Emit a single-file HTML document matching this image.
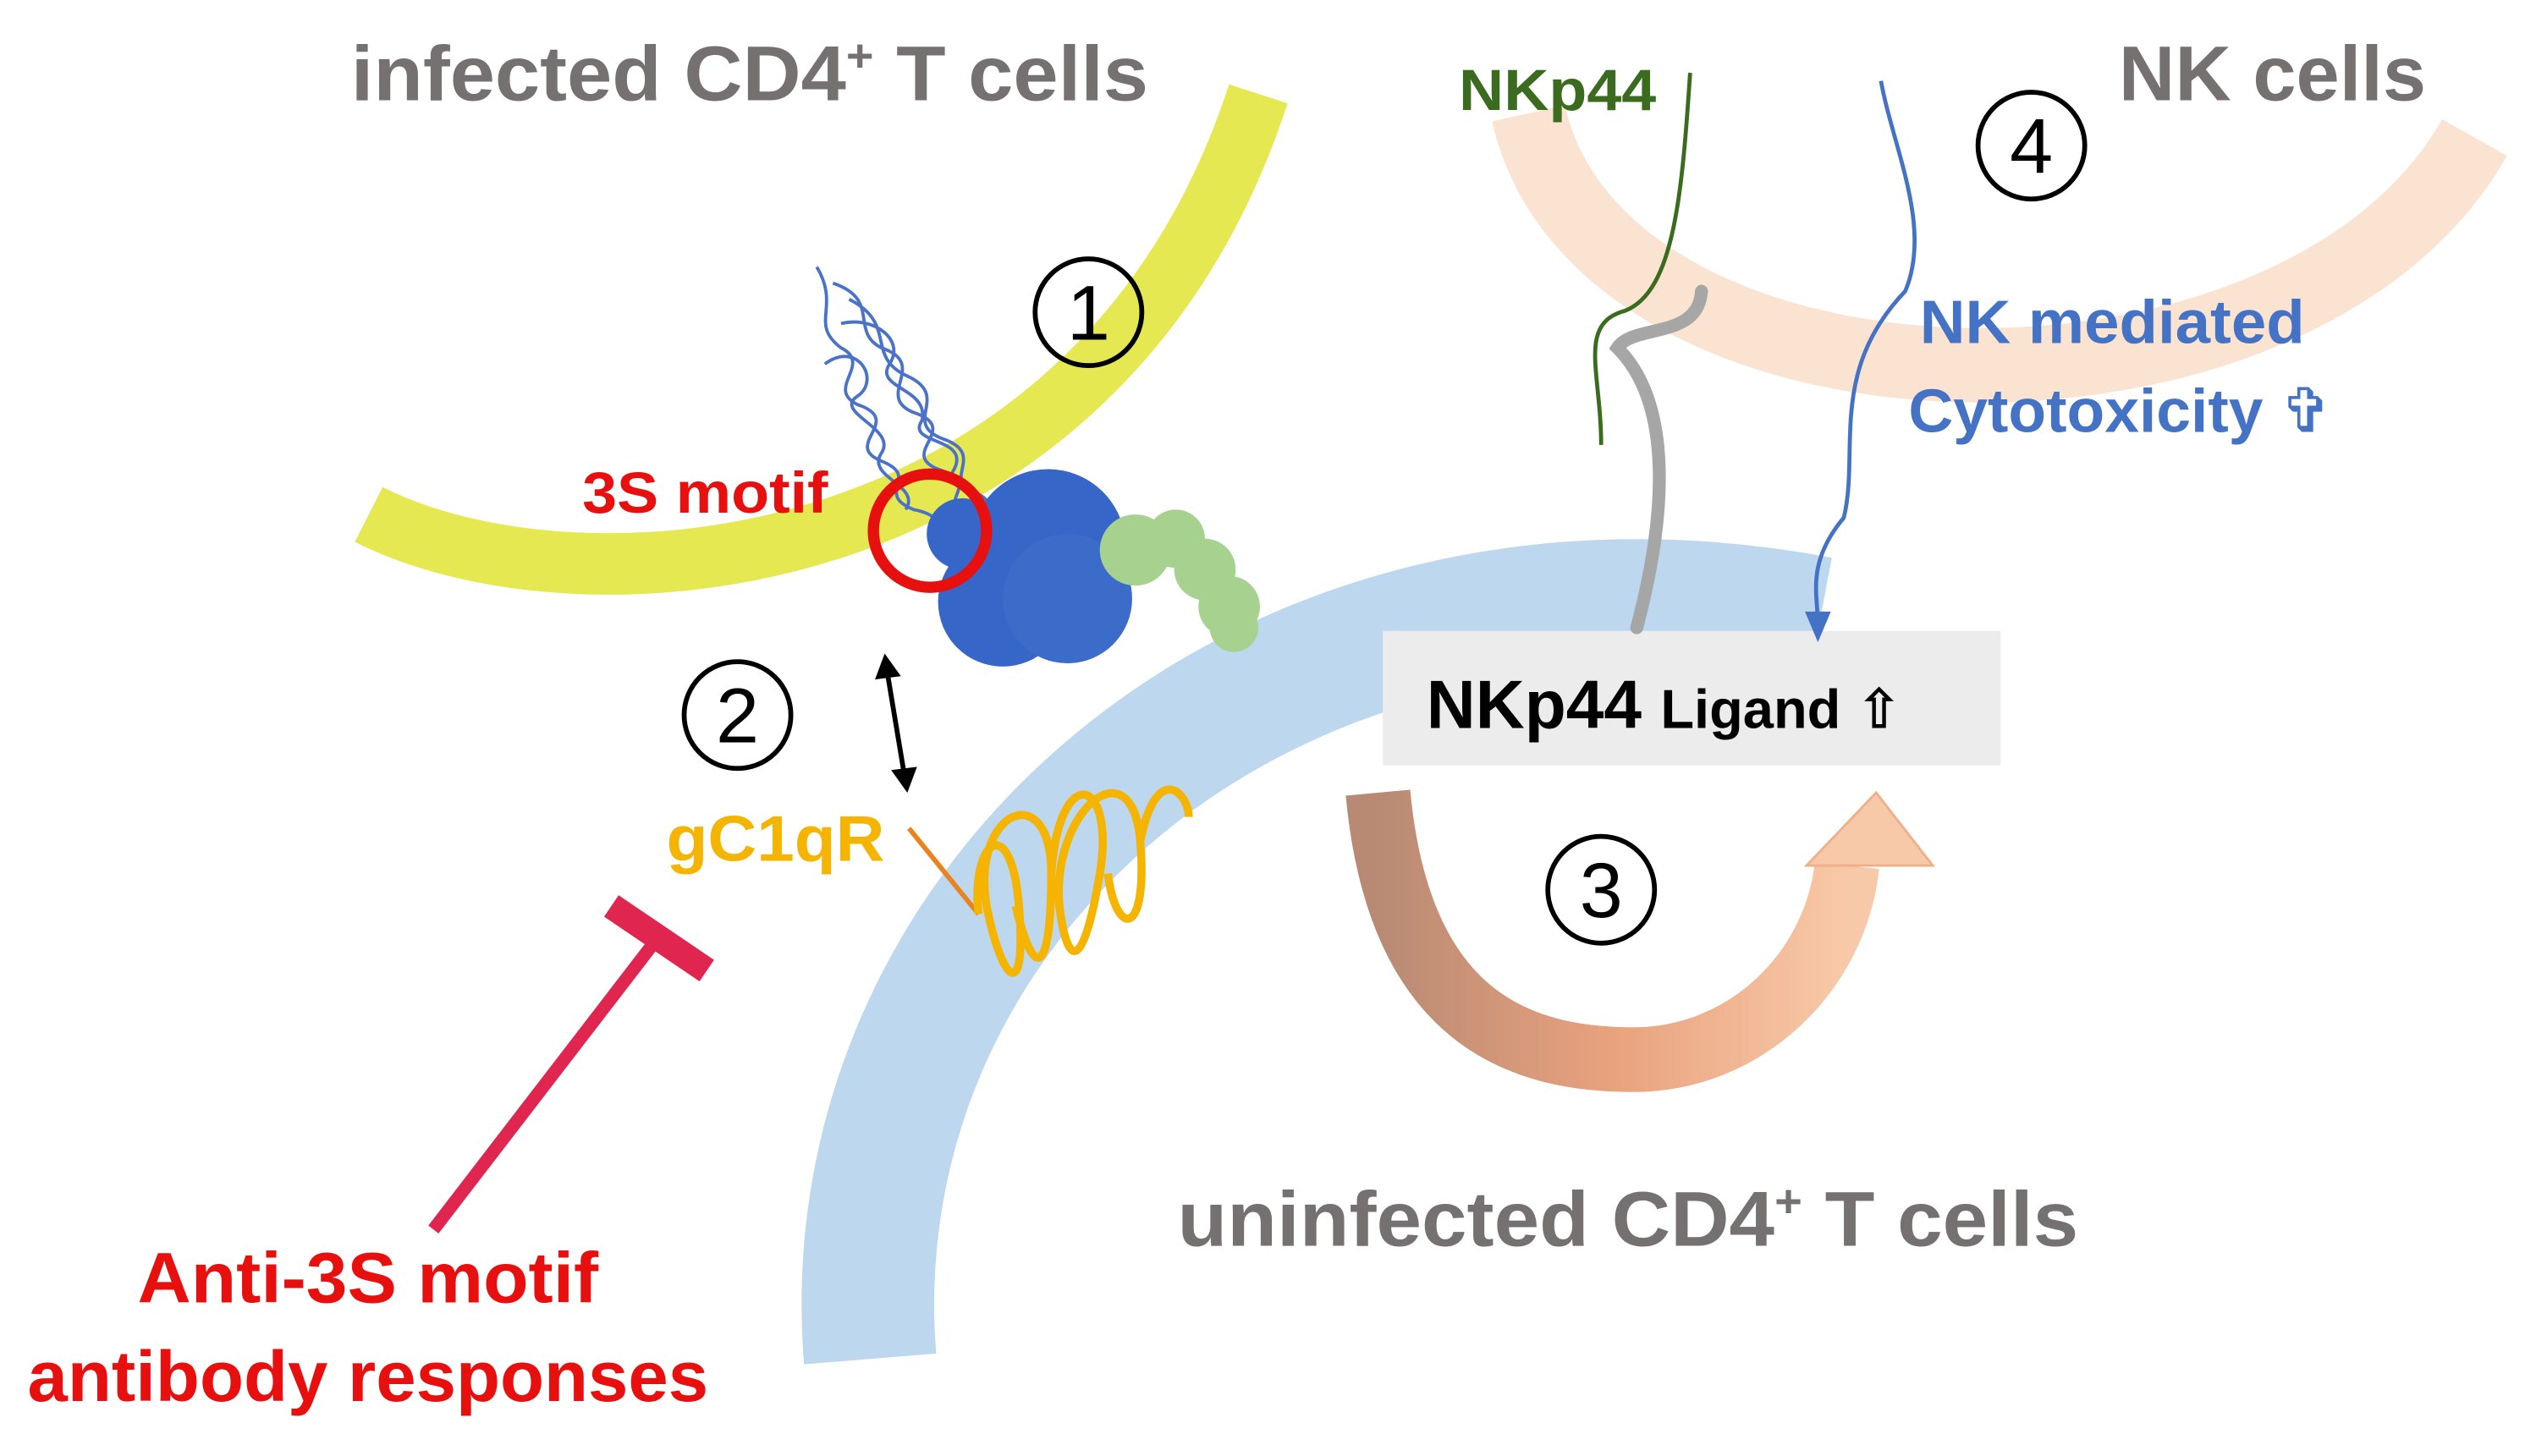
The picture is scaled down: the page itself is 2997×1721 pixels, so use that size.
<!DOCTYPE html>
<html><head><meta charset="utf-8"><style>
html,body{margin:0;padding:0;background:#fff;}
svg{display:block;}
text{font-family:"Liberation Sans","DejaVu Sans",sans-serif;font-weight:bold;}
</style></head><body>
<svg width="2997" height="1721" viewBox="0 0 1568 900" preserveAspectRatio="none" xmlns="http://www.w3.org/2000/svg">
<defs>
<linearGradient id="ag" x1="0" x2="1" y1="0" y2="0">
<stop offset="0" stop-color="#b88a74"/><stop offset="0.5" stop-color="#e9a27e"/><stop offset="1" stop-color="#f8c9a8"/>
</linearGradient>
</defs>
<rect width="1568" height="900" fill="#fff"/>
<path d="M945,70 C990,270 1420,280 1530,85" fill="none" stroke="#fbe3d2" stroke-width="46"/>
<path d="M538,840 C515,560 780,320 1125,385" fill="none" stroke="#bcd7ee" stroke-width="82"/>
<path d="M228,318 C360,385 680,360 778,58" fill="none" stroke="#e6e851" stroke-width="38"/>
<rect x="855" y="390" width="382" height="83" fill="#ececec"/>
<path d="M1012,388 C1030,320 1035,250 1000,215 C1010,200 1050,210 1052,180" fill="none" stroke="#a6a6a6" stroke-width="8" stroke-linecap="round"/>
<path d="M1045,45 C1040,120 1035,180 1005,192 C975,200 990,230 990,275" fill="none" stroke="#3a6b1e" stroke-width="2.5"/>
<path d="M1163,50 C1170,90 1195,140 1178,180 C1130,230 1150,280 1140,320 C1115,350 1125,370 1124,390" fill="none" stroke="#4472c4" stroke-width="2.5"/>
<polygon points="1116,378 1132,378 1124,397" fill="#4472c4"/>
<g fill="none" stroke="#4a72c8" stroke-width="2">
<path d="M505,165 C520,190 500,200 520,215 C540,225 510,240 530,250 C560,260 520,275 545,285 C570,295 540,305 565,315 C590,320 570,330 595,335"/>
<path d="M515,175 C545,185 525,205 545,215 C575,225 540,245 565,255 C595,265 555,280 580,290 C610,300 575,310 600,320"/>
<path d="M520,200 C540,195 560,210 550,225 C540,240 575,240 570,260 C560,275 600,270 590,290 C580,305 620,300 610,320"/>
<path d="M510,225 C530,210 545,235 530,245 C515,255 555,265 545,280 C535,295 570,300 560,315"/>
<path d="M525,185 C555,200 535,220 560,232 C590,245 555,262 585,272 C610,282 580,298 605,305"/>
</g>
<circle cx="648" cy="338" r="48" fill="#3566c8"/>
<circle cx="620" cy="372" r="40" fill="#3566c8"/>
<circle cx="660" cy="370" r="40" fill="#3b6cc9"/>
<circle cx="595" cy="330" r="22" fill="#3566c8"/>
<g fill="#a6d18f">
<circle cx="702" cy="340" r="22"/><circle cx="727" cy="333" r="18"/><circle cx="745" cy="352" r="19"/><circle cx="760" cy="375" r="19"/><circle cx="763" cy="388" r="15"/>
</g>
<circle cx="575" cy="328" r="35" fill="none" stroke="#e8100f" stroke-width="7"/>
<line x1="549" y1="418" x2="559" y2="478" stroke="#000" stroke-width="3"/>
<polygon points="541,420 557,418 547,404" fill="#000"/>
<polygon points="551,476 567,474 561,490" fill="#000"/>
<line x1="562" y1="512" x2="605" y2="565" stroke="#e9831f" stroke-width="3"/>
<path d="M605,565 C600,520 625,500 630,560 C635,620 620,610 610,560 C600,500 650,480 650,540 C650,600 640,610 628,560 M650,540 C655,470 690,480 680,540 C670,600 660,600 655,560 C650,500 700,460 705,520 C710,580 690,580 685,540 M705,520 C715,470 735,490 735,505" fill="none" stroke="#f5b400" stroke-width="5"/>
<line x1="268" y1="760" x2="408" y2="578" stroke="#e0264f" stroke-width="8"/>
<line x1="378" y1="560" x2="437" y2="600" stroke="#e0264f" stroke-width="16"/>
<path d="M852,490 C865,630 940,655 1010,655 C1080,655 1135,600 1142,535" fill="none" stroke="url(#ag)" stroke-width="40"/>
<polygon points="1117,535 1195,535 1160,490" fill="#f8c9a8" stroke="#eeb08a" stroke-width="1.5"/>
<g fill="none" stroke="#000" stroke-width="3">
<circle cx="673" cy="193" r="33"/><circle cx="456" cy="442" r="33"/><circle cx="990" cy="550" r="33"/><circle cx="1256" cy="90" r="33"/>
</g>
<g font-size="48" text-anchor="middle" fill="#000">
<text x="673" y="210" style="font-weight:normal">1</text>
<text x="456" y="459" style="font-weight:normal">2</text>
<text x="990" y="567" style="font-weight:normal">3</text>
<text x="1256" y="107" style="font-weight:normal">4</text>
</g>
<text x="217" y="62" font-size="48" fill="#767171" textLength="493" lengthAdjust="spacingAndGlyphs">infected CD4<tspan font-size="28" dy="-18">+</tspan><tspan dy="18"> T cells</tspan></text>
<text x="1310" y="62" font-size="48" fill="#767171" textLength="190" lengthAdjust="spacingAndGlyphs">NK cells</text>
<text x="728" y="770" font-size="48" fill="#767171" textLength="557" lengthAdjust="spacingAndGlyphs">uninfected CD4<tspan font-size="28" dy="-18">+</tspan><tspan dy="18"> T cells</tspan></text>
<text x="360" y="317" font-size="36" fill="#e8100f" textLength="152" lengthAdjust="spacingAndGlyphs">3S motif</text>
<text x="412" y="532" font-size="40" fill="#f5b400" textLength="135" lengthAdjust="spacingAndGlyphs">gC1qR</text>
<text x="902" y="68" font-size="36" fill="#3a6b1e" textLength="122" lengthAdjust="spacingAndGlyphs">NKp44</text>
<text x="1187" y="212" font-size="38" fill="#4472c4" textLength="238" lengthAdjust="spacingAndGlyphs">NK mediated</text>
<text x="1180" y="267" font-size="38" fill="#4472c4" textLength="262" lengthAdjust="spacingAndGlyphs">Cytotoxicity ✞</text>
<text x="882" y="450" font-size="42" fill="#000">NKp44 <tspan font-size="34">Ligand ⇧</tspan></text>
<text x="85" y="805" font-size="44" fill="#e8100f" textLength="285" lengthAdjust="spacingAndGlyphs">Anti-3S motif</text>
<text x="17" y="866" font-size="44" fill="#e8100f" textLength="421" lengthAdjust="spacingAndGlyphs">antibody responses</text>
</svg>
</body></html>
